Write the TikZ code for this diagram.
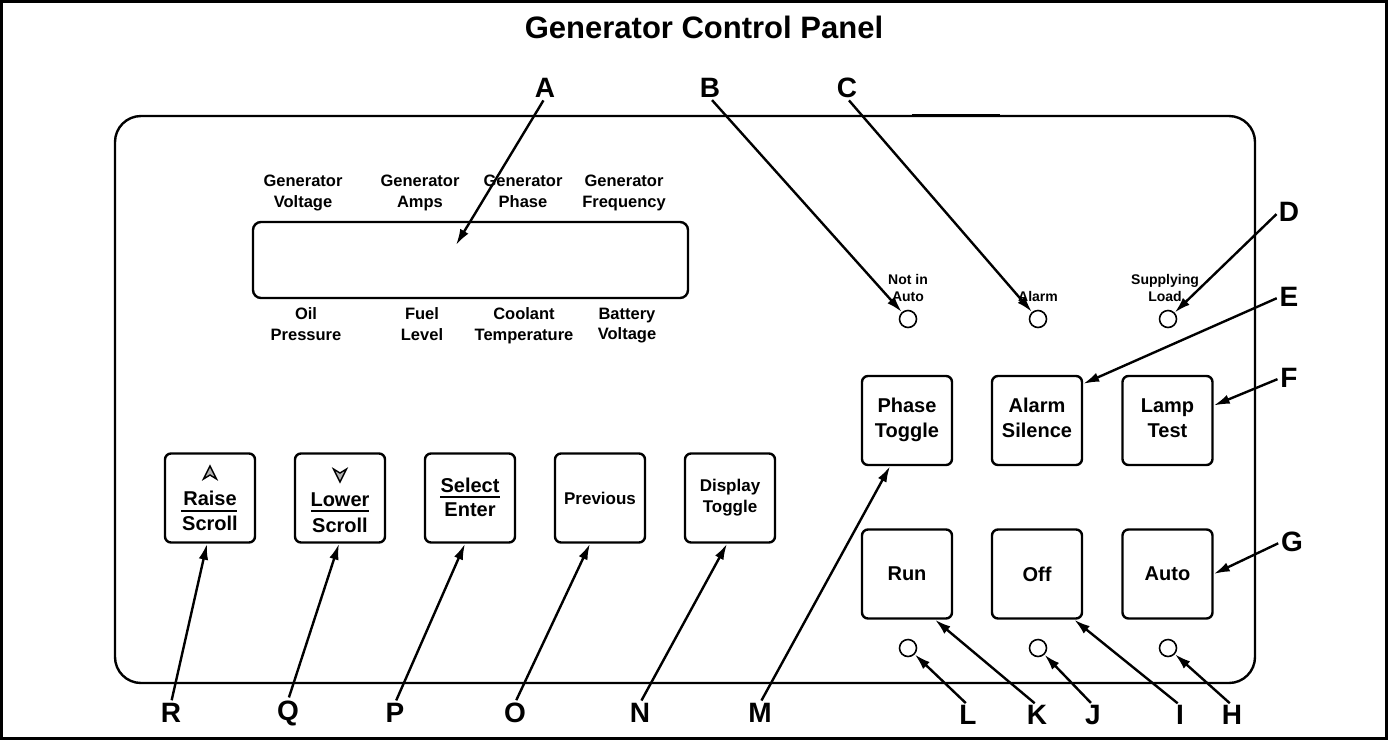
\documentclass[tikz,border=0pt]{standalone}
\usepackage{fontspec}
\setmainfont{Liberation Sans}
\usetikzlibrary{arrows.meta}
\begin{document}
\begin{tikzpicture}[x=1pt,y=-1pt,
  frame/.style={draw, line width=3pt},
  panelbox/.style={draw, line width=2.4pt, rounded corners=26pt, minimum width=1140pt, minimum height=567pt, inner sep=0pt},
  screenbox/.style={draw, line width=2.4pt, rounded corners=8pt, minimum width=435pt, minimum height=76pt, inner sep=0pt},
  btn/.style={draw, line width=2.4pt, rounded corners=6pt, minimum width=90pt, minimum height=89pt, inner sep=0pt, align=center, font=\fontsize{20}{25}\selectfont\bfseries},
  btntwo/.style={btn, text depth=5pt},
  btnsmall/.style={btn, font=\fontsize{17}{21}\selectfont\bfseries},
  btntxt/.style={inner sep=0pt, font=\fontsize{20}{24}\selectfont\bfseries},
  led/.style={draw, circle, line width=1.6pt, minimum size=17pt, inner sep=0pt},
  callout/.style={font=\fontsize{28}{28}\selectfont\bfseries, inner sep=0pt},
  lbl/.style={font=\fontsize{16.5}{20.5}\selectfont\bfseries, align=center, inner sep=0pt, text depth=4pt},
  ledlbl/.style={font=\fontsize{14}{17}\selectfont\bfseries, align=center, inner sep=0pt, text depth=3.5pt},
  ptr/.style={line width=2.4pt, shorten <=3pt, -{Latex[length=16pt,width=9.5pt]}},
  rule/.style={line width=2.2pt},
  glyph/.style={line width=1.4pt, fill=gray!60, line join=miter},
]
\useasboundingbox (0,0) rectangle (1388,740);
\draw[frame] (1.5,1.5) rectangle (1386.5,738.5);

\node[font=\fontsize{31}{31}\selectfont\bfseries] (title) at (704,27) {Generator Control Panel};

% panel
\node[panelbox] (panel) at (685,399.5) {};
\draw[line width=3.5pt] (912,115.5) -- (1000,115.5);

% display
\node[screenbox] (screen) at (470.5,260) {};
\node[lbl] (gv) at (303,193) {Generator\\Voltage};
\node[lbl] (ga) at (420,193) {Generator\\Amps};
\node[lbl] (gp) at (523,193) {Generator\\Phase};
\node[lbl] (gf) at (624,193) {Generator\\Frequency};
\node[lbl] (op) at (306,326) {Oil\\Pressure};
\node[lbl] (fl) at (422,326) {Fuel\\Level};
\node[lbl] (ct) at (524,326) {Coolant\\Temperature};
\node[lbl] (bv) at (627,326) {Battery\\Voltage};
\coordinate (atip) at (456,245);

% top LEDs
\node[led] (ledB) at (908,319) {};
\node[led] (ledC) at (1038,319) {};
\node[led] (ledD) at (1168,319) {};
\node[ledlbl] (nia) at (908,290) {Not in\\Auto};
\node[ledlbl] (alm) at (1038,298) {Alarm};
\node[ledlbl] (sl) at (1165,290) {Supplying\\Load};

% right buttons
\node[btntwo] (phase) at (907,420.5) {Phase\\Toggle};
\node[btntwo] (sil) at (1037,420.5) {Alarm\\Silence};
\node[btntwo] (lamp) at (1167.5,420.5) {Lamp\\Test};
\node[btn] (run) at (907,574) {Run};
\node[btn] (off) at (1037,574) {Off};
\node[btn] (auto) at (1167.5,574) {Auto};

% bottom LEDs
\node[led] (ledL) at (908,648) {};
\node[led] (ledJ) at (1038,648) {};
\node[led] (ledH) at (1168,648) {};

% left buttons
\node[btn] (rai) at (210,498) {};
\node[btn] (low) at (340,498) {};
\node[btn] (sel) at (470,498) {};
\node[btnsmall] (prev) at (600,498) {Previous};
\node[btnsmall, text depth=4pt] (dtog) at (730,498) {Display\\Toggle};

\draw[glyph] (210,466) -- (216.5,479) -- (210,475) -- (203.5,479) -- cycle;
\node[btntxt] (raiT) at (210,498) {Raise};
\draw[rule] (181,511) -- (237,511);
\node[btntxt] (raiB) at (210,523) {Scroll};

\draw[glyph] (340,482) -- (346.5,469) -- (340,473) -- (333.5,469) -- cycle;
\node[btntxt] (lowT) at (340,500) {Lower};
\draw[rule] (311,511) -- (369,511);
\node[btntxt] (lowB) at (340,525) {Scroll};

\node[btntxt] (selT) at (470,485) {Select};
\draw[rule] (440,497) -- (500,497);
\node[btntxt] (selB) at (470,510) {Enter};

% callout letters
\node[callout] (A) at (545,88) {A};
\node[callout] (B) at (710,88) {B};
\node[callout] (C) at (847,88) {C};
\node[callout] (D) at (1289,212) {D};
\node[callout] (E) at (1289,297) {E};
\node[callout] (F) at (1289,378) {F};
\node[callout] (G) at (1292,542) {G};
\node[callout] (H) at (1232,715) {H};
\node[callout] (I) at (1180,715) {I};
\node[callout] (J) at (1093,715) {J};
\node[callout] (K) at (1037,715) {K};
\node[callout] (L) at (968,715) {L};
\node[callout] (M) at (760,713) {M};
\node[callout] (N) at (640,713) {N};
\node[callout] (O) at (515,713) {O};
\node[callout] (P) at (395,713) {P};
\node[callout] (Q) at (288,713) {Q};
\node[callout] (R) at (171,713) {R};

% connectors
\draw[ptr] (A.south) -- (atip);
\draw[ptr] (B.south) -- (ledB);
\draw[ptr] (C.south) -- (ledC);
\draw[ptr] (D.west) -- (ledD);
\draw[ptr] (E.west) -- ([yshift=-9pt]sil.north east);
\draw[ptr] (F.west) -- ([yshift=15pt]lamp.east);
\draw[ptr] (G.west) -- (auto.east);
\draw[ptr] (H.north) -- (ledH);
\draw[ptr] (I.north) -- ([xshift=-9pt]off.south east);
\draw[ptr] (J.north) -- (ledJ);
\draw[ptr] (K.north) -- ([xshift=28pt]run.south);
\draw[ptr] (L.north) -- (ledL);
\draw[ptr] (M.north) -- ([xshift=-17pt]phase.south);
\draw[ptr] (N.north) -- ([xshift=-3pt]dtog.south);
\draw[ptr] (O.north) -- ([xshift=-10pt]prev.south);
\draw[ptr] (P.north) -- ([xshift=-5pt]sel.south);
\draw[ptr] (Q.north) -- ([xshift=-1pt]low.south);
\draw[ptr] (R.north) -- ([xshift=-3pt]rai.south);
\end{tikzpicture}
\end{document}
